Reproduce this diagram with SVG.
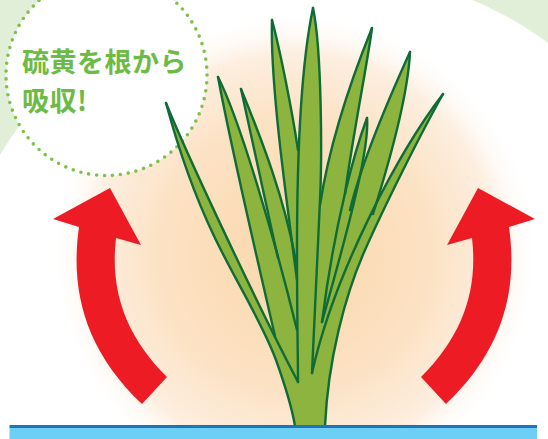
<svg xmlns="http://www.w3.org/2000/svg" width="548" height="439" viewBox="0 0 548 439">
  <defs>
    <radialGradient id="glow" cx="295" cy="255" r="245" gradientUnits="userSpaceOnUse">
      <stop offset="0" stop-color="#fbd6a9"/>
      <stop offset="0.55" stop-color="#fce2c4"/>
      <stop offset="0.82" stop-color="#fdeedf"/>
      <stop offset="1" stop-color="#ffffff" stop-opacity="0"/>
    </radialGradient>
    <style>
      .leaf { fill: #8cb43e; }
      .vein { fill: none; stroke: #0f6b37; stroke-width: 2.4; stroke-linecap: round; stroke-linejoin: round; }
      .arrow { fill: #ed1c24; }
      .label { font-family: "Noto Sans CJK JP", "Noto Sans CJK SC", sans-serif; font-weight: 700; font-size: 27px; letter-spacing: 0.5px; fill: #6dbb45; }
    </style>
  </defs>

  <!-- backdrop: pale green page with a large white disc -->
  <g id="backdrop">
    <rect x="0" y="0" width="548" height="439" fill="#e1efd9"/>
    <circle cx="325" cy="348" r="378" fill="#ffffff"/>
    <circle cx="295" cy="255" r="245" fill="url(#glow)"/>
  </g>

  <!-- dotted callout bubble -->
  <g id="callout">
    <circle cx="106.5" cy="75" r="100.5" fill="#ffffff" stroke="#7dc24b" stroke-width="3.6" stroke-linecap="round" stroke-dasharray="0 8" pathLength="632"/>
    <text class="label" x="22" y="71.5">硫黄を根から</text>
    <text class="label" x="22" y="111">吸収!</text>
  </g>

  <!-- plant: leaf fills first, then the outline strokes -->
  <g id="plant">
    <g id="plant-fill">
      <!-- stem body joining all leaf bases -->
      <path class="leaf" d="M272,345 L275,336 L278,258 L296,262 L298,150 L320,205 L345,194 L351,212 L373,214 L365,250 C345,295 328,360 325,426 L295,426 C292,408 286,388 276,360 Z"/>
      <path class="leaf" d="M166,103 C176,140 192,190 214,236 C236,282 262,322 276,360 C286,388 292,408 295,426 L298,382 C250,290 185,150 166,103 Z"/>
      <path class="leaf" d="M218,77 C226,120 248,220 275,336 L288,360 L297,330 C275,240 240,120 218,77 Z"/>
      <path class="leaf" d="M241,89 C252,140 265,200 278,258 L290,300 L296,262 C285,200 262,140 241,89 Z"/>
      <path class="leaf" d="M272,20 C270,80 285,190 297,280 L305,250 L298,150 C292,110 280,50 272,20 Z"/>
      <path class="leaf" d="M313,8 C302,60 297,150 297,250 C297,320 298,360 298,382 L305,400 L312,373 C313,340 317,270 320,200 C322,160 322,50 313,8 Z"/>
      <path class="leaf" d="M372,28 C355,70 330,140 320,205 L330,240 L345,194 C352,140 368,60 372,28 Z"/>
      <path class="leaf" d="M367,118 C355,150 335,220 322,322 C345,240 370,150 367,118 Z"/>
      <path class="leaf" d="M410,52 C395,85 362,160 350,210 L355,240 L373,214 C390,160 408,95 410,52 Z"/>
      <path class="leaf" d="M443,94 C420,135 385,205 365,250 C345,295 328,360 325,426 L312,373 C335,270 400,150 443,94 Z"/>
    </g>
    <g id="plant-outline">
      <path class="vein" d="M166,103 C176,140 192,190 214,236 C236,282 262,322 276,360 C286,388 292,408 295,426"/>
      <path class="vein" d="M166,103 C185,150 250,290 298,382"/>
      <path class="vein" d="M218,77 C226,120 248,220 275,336"/>
      <path class="vein" d="M218,77 C240,120 275,240 297,330"/>
      <path class="vein" d="M241,89 C252,140 265,200 278,258"/>
      <path class="vein" d="M241,89 C262,140 285,200 296,262"/>
      <path class="vein" d="M272,20 C270,80 285,190 297,280"/>
      <path class="vein" d="M272,20 C280,50 292,110 298,150"/>
      <path class="vein" d="M313,8 C302,60 297,150 297,250 C297,320 298,360 298,382"/>
      <path class="vein" d="M313,8 C322,50 322,160 320,200 C317,270 313,340 312,373"/>
      <path class="vein" d="M372,28 C355,70 330,140 320,205"/>
      <path class="vein" d="M372,28 C368,60 352,140 345,194"/>
      <path class="vein" d="M367,118 C355,150 335,220 322,322"/>
      <path class="vein" d="M367,118 C370,150 345,240 322,322"/>
      <path class="vein" d="M410,52 C395,85 362,160 350,210"/>
      <path class="vein" d="M410,52 C408,95 390,160 373,214"/>
      <path class="vein" d="M443,94 C400,150 335,270 312,373"/>
      <path class="vein" d="M443,94 C420,135 385,205 365,250 C345,295 328,360 325,426"/>
    </g>
  </g>

  <!-- rising arrows on both sides -->
  <g id="arrow-left">
    <path class="arrow" d="M110,188 L53,219 L79,227 C70,290 85,350 142,404 L167,377 C125,335 110,290 116,238 L141,245 Z"/>
  </g>
  <g id="arrow-right" transform="translate(588,0) scale(-1,1)">
    <path class="arrow" d="M110,188 L53,219 L79,227 C70,290 85,350 142,404 L167,377 C125,335 110,290 116,238 L141,245 Z"/>
  </g>

  <!-- ground strip -->
  <g id="ground">
    <rect x="9.5" y="425" width="527.5" height="3" fill="#1b75bc"/>
    <rect x="9.5" y="428" width="527.5" height="11" fill="#6dcff6"/>
  </g>
</svg>
